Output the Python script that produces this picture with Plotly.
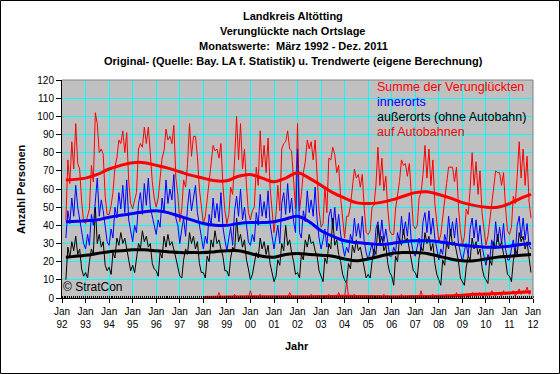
import pandas as pd
import plotly.graph_objects as go

# ---------------- data (monthly, März 1992 - Dez. 2011) ----------------
innerorts = [
    33, 48, 41, 55, 45, 62, 50, 44, 37, 30,                      # 1992 (Mar-Dec)
    27, 35, 29, 46, 40, 52, 66, 45, 54, 48, 38, 31,              # 1993
    29, 38, 33, 50, 44, 58, 49, 62, 47, 65, 43, 37,              # 1994
    31, 40, 36, 52, 58, 46, 63, 51, 66, 50, 45, 39,              # 1995
    35, 43, 39, 55, 47, 65, 52, 60, 54, 68, 44, 40,              # 1996
    30, 38, 44, 34, 50, 60, 48, 55, 62, 47, 41, 35,              # 1997
    27, 34, 30, 46, 40, 55, 44, 52, 42, 58, 39, 32,              # 1998
    26, 33, 39, 29, 48, 56, 45, 60, 43, 50, 40, 31,              # 1999
    29, 35, 31, 47, 40, 57, 45, 53, 44, 59, 41, 34,              # 2000
    27, 34, 40, 30, 52, 58, 46, 63, 47, 55, 42, 36,              # 2001
    82, 36, 33, 48, 42, 59, 47, 54, 45, 61, 43, 33,              # 2002
    27, 32, 38, 28, 45, 49, 38, 50, 37, 46, 35, 29,              # 2003
    23, 28, 25, 35, 31, 44, 34, 41, 33, 45, 31, 25,              # 2004
    21, 26, 30, 23, 38, 42, 32, 43, 31, 38, 29, 23,              # 2005
    23, 28, 25, 36, 31, 45, 35, 42, 34, 47, 31, 25,              # 2006
    23, 29, 33, 26, 42, 47, 36, 48, 35, 44, 33, 27,              # 2007
    21, 27, 24, 35, 30, 45, 34, 42, 33, 44, 30, 25,              # 2008
    20, 26, 30, 23, 38, 44, 33, 43, 31, 40, 29, 23,              # 2009
    18, 24, 21, 32, 27, 42, 31, 39, 30, 41, 27, 21,              # 2010
    21, 27, 32, 24, 40, 45, 33, 44, 32, 41, 29, 27,              # 2011
]

ausserorts = [
    10, 28, 22, 31, 26, 34, 24, 27, 16, 12,                      # 1992 (Mar-Dec)
    14, 11, 20, 27, 24, 50, 30, 35, 28, 31, 18, 15,              # 1993
    17, 13, 25, 22, 33, 29, 36, 30, 33, 26, 21, 15,              # 1994
    18, 14, 22, 30, 27, 37, 31, 34, 28, 30, 19, 16,              # 1995
    15, 12, 25, 22, 34, 28, 35, 29, 31, 27, 22, 17,              # 1996
    12, 11, 21, 27, 24, 36, 30, 34, 27, 31, 19, 14,              # 1997
    14, 11, 23, 20, 32, 28, 37, 30, 32, 27, 23, 15,              # 1998
    15, 12, 22, 28, 26, 44, 31, 35, 28, 32, 21, 16,              # 1999
    10, 13, 18, 25, 22, 33, 27, 31, 24, 29, 19, 13,              # 2000
     9, 12, 21, 18, 30, 26, 40, 29, 32, 25, 20, 13,              # 2001
    14, 11, 24, 21, 32, 28, 35, 30, 31, 26, 23, 15,              # 2002
    12,  9, 22, 19, 30, 27, 44, 29, 32, 24, 20, 13,              # 2003
    10,  8, 19, 16, 29, 25, 32, 26, 28, 22, 18, 11,              # 2004
    13, 11, 20, 27, 24, 40, 30, 34, 26, 29, 19, 14,              # 2005
    12,  7, 23, 20, 33, 29, 38, 31, 33, 27, 23, 15,              # 2006
    14, 11, 22, 28, 26, 36, 30, 34, 26, 30, 19, 13,              # 2007
    10,  7, 21, 18, 31, 27, 38, 29, 31, 25, 20, 11,              # 2008
     9,  7, 17, 23, 21, 33, 27, 31, 24, 27, 17, 12,              # 2009
    10,  8, 21, 18, 31, 27, 35, 28, 31, 24, 21, 13,              # 2010
    12,  9, 20, 27, 24, 36, 31, 34, 27, 31, 22, 14,              # 2011
]

autobahn = [None] * 70 + [                                       # 1992-1997: keine Werte
    0, 0, 1, 0, 0, 1, 0, 0, 3, 0, 0, 1,                          # 1998
    0, 1, 0, 0, 2, 0, 0, 1, 0, 0, 1, 0,                          # 1999
    4, 0, 1, 0, 0, 2, 0, 0, 1, 0, 1, 0,                          # 2000
    0, 0, 1, 0, 0, 1, 0, 0, 3, 1, 0, 0,                          # 2001
    0, 1, 0, 0, 1, 0, 0, 2, 0, 0, 1, 0,                          # 2002
    0, 0, 1, 0, 2, 0, 1, 0, 0, 3, 0, 1,                          # 2003
    0, 9, 1, 0, 1, 2, 0, 1, 0, 1, 0, 0,                          # 2004
    1, 0, 0, 1, 0, 1, 0, 0, 2, 0, 1, 0,                          # 2005
    0, 0, 1, 0, 0, 2, 0, 1, 0, 0, 1, 0,                          # 2006
    1, 0, 0, 4, 0, 1, 0, 0, 1, 2, 0, 1,                          # 2007
    0, 1, 0, 0, 2, 0, 0, 1, 0, 3, 0, 1,                          # 2008
    0, 1, 2, 0, 1, 3, 2, 1, 2, 3, 1, 2,                          # 2009
    1, 2, 1, 4, 2, 1, 3, 2, 1, 4, 2, 3,                          # 2010
    2, 3, 4, 1, 3, 5, 2, 4, 3, 6, 2, 3,                          # 2011
]

# Trendwerte (Stützstellen, geglättet dargestellt)
trend_dates = ["1992-03-01", "1993-01-01", "1993-07-01", "1994-01-01", "1994-07-01",
               "1995-01-01", "1995-07-01", "1996-01-01", "1996-07-01", "1997-01-01",
               "1997-07-01", "1998-01-01", "1998-07-01", "1999-01-01", "1999-07-01",
               "2000-01-01", "2000-07-01", "2001-01-01", "2001-07-01", "2002-01-01",
               "2002-07-01", "2003-01-01", "2003-07-01", "2004-01-01", "2004-07-01",
               "2005-01-01", "2005-07-01", "2006-01-01", "2006-07-01", "2007-01-01",
               "2007-07-01", "2008-01-01", "2008-07-01", "2009-01-01", "2009-07-01",
               "2010-01-01", "2010-07-01", "2011-01-01", "2011-07-01", "2011-12-01"]
trend_summe = [65, 66, 68, 71, 73, 74.5, 74.5, 73, 71.5, 69.5,
               67.5, 66, 64.5, 64.5, 67, 68, 66, 64, 66, 69,
               66, 62, 58, 55, 52.5, 52, 52.5, 54, 56, 58,
               58.5, 57, 55, 52.5, 51, 50, 50, 52, 55, 57]
trend_inner = [42, 42.5, 43, 44.5, 45.5, 46.5, 47.5, 48, 47, 45,
               43, 41, 40, 40, 41, 41.5, 41.5, 42, 43.5, 45,
               42, 37, 34, 31.5, 30.5, 30, 29.5, 30, 31, 31.5,
               31.5, 31, 30, 29, 28.5, 28, 28, 28.5, 29.5, 30]
trend_ausser = [22.5, 23.5, 24.5, 25.5, 26, 26.5, 26.5, 26, 25.5, 25,
                25, 25, 25.5, 26, 26, 24.5, 23, 22.5, 24, 24.5,
                24, 23.5, 23, 21.5, 20.5, 21.5, 23, 24.5, 25, 25,
                24.5, 23, 21.5, 20.5, 20.5, 21.5, 22.5, 23, 23.5, 24]
trend_ab_dates = ["1998-01-01", "1999-01-01", "2000-01-01", "2001-01-01", "2002-01-01",
                  "2003-01-01", "2004-01-01", "2005-01-01", "2006-01-01", "2007-01-01",
                  "2008-01-01", "2009-01-01", "2009-07-01", "2010-01-01", "2010-07-01",
                  "2011-01-01", "2011-07-01", "2011-12-01"]
trend_autobahn = [0.3, 0.5, 0.7, 0.7, 0.7, 0.8, 1.0, 0.8, 0.7, 0.8,
                  1.0, 1.5, 2.0, 2.2, 2.5, 2.8, 3.2, 3.5]

year_ticks = [str(y) for y in range(1992, 2013)]
tick_labels = ["Jan<br>%02d" % (int(y) % 100) for y in year_ticks]

title_lines = ["Landkreis Altötting", "Verunglückte nach Ortslage",
               "Monatswerte:  März 1992 - Dez. 2011",
               "Original- (Quelle: Bay. LA f. Statistik) u. Trendwerte (eigene Berechnung)"]
legend_names = ["Summe der Verunglückten", "innerorts",
                "außerorts (ohne Autobahn)", "auf Autobahnen"]

# ---------------- figure ----------------
months = pd.date_range("1992-03-01", "2011-12-01", freq="MS")
summe = [i + a + (b or 0) for i, a, b in zip(innerorts, ausserorts, autobahn)]

RED, BLUE, BLACK = "#FF0000", "#0000FF", "#000000"
FONT = "Liberation Sans, Arial, sans-serif"

fig = go.Figure()
for y, c in [(summe, RED), (innerorts, BLUE), (ausserorts, BLACK), (autobahn, RED)]:
    fig.add_trace(go.Scatter(x=months, y=y, mode="lines",
                             line=dict(color=c, width=1), showlegend=False))
for d, y, c in [(trend_dates, trend_summe, RED), (trend_dates, trend_inner, BLUE),
                (trend_dates, trend_ausser, BLACK), (trend_ab_dates, trend_autobahn, RED)]:
    fig.add_trace(go.Scatter(x=d, y=y, mode="lines",
                             line=dict(color=c, width=3, shape="spline", smoothing=1.0),
                             showlegend=False))

W, H = 560, 374
L, R, T, B = 62, 27, 80, 76
pw, ph = W - L - R, H - T - B


def px(xp):
    return (xp - L) / pw


def py(yp):
    return (T + ph - yp) / ph


fig.update_layout(
    width=W, height=H,
    margin=dict(l=L, r=R, t=T, b=B, pad=0),
    paper_bgcolor="white", plot_bgcolor="#C0C0C0",
    font=dict(family=FONT, size=10, color="black"),
    hovermode=False,
    xaxis=dict(
        type="date", range=["1992-01-01", "2012-01-01"],
        tickvals=year_ticks, ticktext=tick_labels, tickangle=0,
        showgrid=True, gridcolor="#00FFFF", gridwidth=1,
        showline=True, linecolor="black", linewidth=1,
        ticks="outside", ticklen=4, tickcolor="black",
        minor=dict(ticks="inside", ticklen=2, dtick="M1", tickcolor="black", showgrid=False),
        tickfont=dict(size=10), zeroline=False,
    ),
    yaxis=dict(
        range=[0, 120], tickvals=list(range(0, 121, 10)),
        showgrid=True, gridcolor="#00FFFF", gridwidth=1,
        showline=True, linecolor="black", linewidth=1,
        ticks="outside", ticklen=5, tickcolor="black",
        tickfont=dict(size=10), zeroline=False,
    ),
)

# plot-area border (top/right grey)
fig.add_shape(type="line", xref="paper", yref="paper", x0=0, x1=1, y0=1, y1=1,
              line=dict(color="#808080", width=1))
fig.add_shape(type="line", xref="paper", yref="paper", x0=1, x1=1, y0=0, y1=1,
              line=dict(color="#808080", width=1))
# outer chart frame
fig.add_shape(type="rect", xref="paper", yref="paper",
              x0=px(0.5), x1=px(W - 0.5), y0=py(H - 0.5), y1=py(0.5),
              line=dict(color="black", width=1))

# title lines
for k, line in enumerate(title_lines):
    fig.add_annotation(text=line, xref="paper", yref="paper",
                       x=px(293), y=py(16 + 15 * k), xanchor="center", yanchor="middle",
                       showarrow=False,
                       font=dict(family=FONT, size=11, color="black", weight="bold"))

# axis titles
fig.add_annotation(text="Jahr", xref="paper", yref="paper", x=px(297), y=py(346),
                   xanchor="center", yanchor="middle", showarrow=False,
                   font=dict(family=FONT, size=11, color="black", weight="bold"))
fig.add_annotation(text="Anzahl Personen", xref="paper", yref="paper", x=px(21), y=py(189),
                   xanchor="center", yanchor="middle", showarrow=False, textangle=-90,
                   font=dict(family=FONT, size=11, color="black", weight="bold"))

# legend as coloured texts
for k, (name, col) in enumerate(zip(legend_names, [RED, BLUE, BLACK, RED])):
    fig.add_annotation(text=name, xref="paper", yref="paper",
                       x=px(375), y=py(87 + 15 * k),
                       xanchor="left", yanchor="middle", showarrow=False,
                       font=dict(family=FONT, size=12.5, color=col))

fig.add_annotation(text="© StratCon", xref="paper", yref="paper",
                   x=px(61), y=py(287),
                   xanchor="left", yanchor="middle", showarrow=False,
                   font=dict(family=FONT, size=12, color="black"))

fig.write_html("out.html",
               config={"displayModeBar": False},
               post_script="document.body.style.margin='0';"
                           "document.body.style.overflow='hidden';")
